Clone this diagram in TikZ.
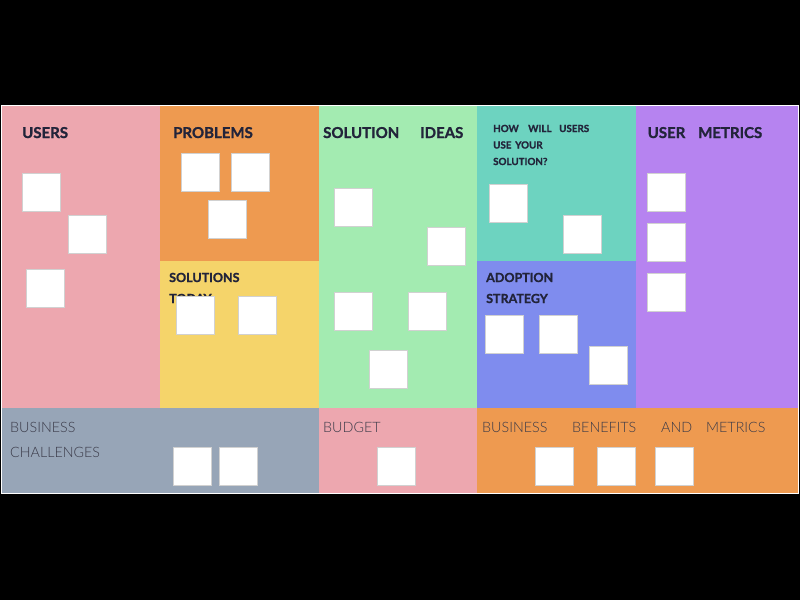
\documentclass[tikz,border=0pt]{standalone}
\usepackage{fontspec}
\setmainfont{Lato}
\newfontfamily\heavyf[BoldFeatures={FakeBold=1.2}]{Lato}
\newfontfamily\lightf{Lato Light}
\begin{document}
\begin{tikzpicture}[x=1pt,y=-1pt,
  sticky/.style={draw=black!18,line width=0.6pt,fill=white,minimum width=38pt,minimum height=38pt,inner sep=0pt,anchor=north west},
  head/.style={anchor=base west,inner sep=0pt,font=\heavyf\bfseries\fontsize{15}{18}\selectfont,text=headc},
  subhead/.style={anchor=base west,inner sep=0pt,font=\heavyf\bfseries\fontsize{12.5}{15}\selectfont,text=headc},
  smallhead/.style={anchor=base west,inner sep=0pt,font=\heavyf\bfseries\fontsize{9.8}{12}\selectfont,text=headc},
  low/.style={anchor=base west,inner sep=0pt,font=\lightf\fontsize{14.3}{17}\selectfont,text=lowc}]
\definecolor{headc}{HTML}{22243A}
\definecolor{lowc}{HTML}{3A3A48}
\definecolor{cpink}{HTML}{EDA7AF}
\definecolor{corange}{HTML}{EE9A50}
\definecolor{cyellow}{HTML}{F5D46A}
\definecolor{cgreen}{HTML}{A3EBB1}
\definecolor{cteal}{HTML}{6DD3C0}
\definecolor{cblue}{HTML}{7F8CEE}
\definecolor{cpurple}{HTML}{B683F0}
\definecolor{cgray}{HTML}{97A5B7}
\useasboundingbox (0,0) rectangle (800,600);
\fill[black] (0,0) rectangle (800,600);
\fill[white] (1,105) rectangle (799,494);
% panels
\fill[cpink] (2,106) rectangle (160,408);
\fill[corange] (160,106) rectangle (319,261);
\fill[cyellow] (160,261) rectangle (319,408);
\fill[cgreen] (319,106) rectangle (477,408);
\fill[cteal] (477,106) rectangle (636,261);
\fill[cblue] (477,261) rectangle (636,408);
\fill[cpurple] (636,106) rectangle (798,408);
\fill[cgray] (2,408) rectangle (319,493);
\fill[cpink] (319,408) rectangle (477,493);
\fill[corange] (477,408) rectangle (798,493);
% headings
\node[head] (tusers) at (22,138) {USERS};
\node[head] (tprob) at (173,138) {PROBLEMS};
\node[head] (tsol) at (323,138) {SOLUTION};
\node[head] (tideas) at (420,138) {IDEAS};
\node[head] (tuser) at (647.5,138) {USER};
\node[head] (tmetr) at (698,138) {METRICS};
\node[smallhead] (thow) at (493,132) {HOW};
\node[smallhead] (twill) at (528,132) {WILL};
\node[smallhead] (tusers2) at (559,132) {USERS};
\node[smallhead] (tuse) at (493,148.5) {USE};
\node[smallhead] (tyour) at (515,148.5) {YOUR};
\node[smallhead] (tsolq) at (493,165) {SOLUTION?};
\node[subhead] (tsolt) at (169,282) {SOLUTIONS};
\node[subhead] (ttoday) at (169,303) {TODAY};
\node[subhead] (tadopt) at (486,282) {ADOPTION};
\node[subhead] (tstrat) at (486,303) {STRATEGY};
\node[low] (tbus) at (10,432) {BUSINESS};
\node[low] (tchal) at (10,457) {CHALLENGES};
\node[low] (tbud) at (323,432) {BUDGET};
\node[low] (tbus2) at (482,432) {BUSINESS};
\node[low] (tben) at (572,432) {BENEFITS};
\node[low] (tand) at (661,432) {AND};
\node[low] (tmet2) at (706,432) {METRICS};
% stickies
\node[sticky] (u1) at (22,173) {};
\node[sticky] (u2) at (68,215) {};
\node[sticky] (u3) at (26,269) {};
\node[sticky] (p1) at (181,153) {};
\node[sticky] (p2) at (231,153) {};
\node[sticky] (p3) at (208,200) {};
\node[sticky] (st1) at (176,296) {};
\node[sticky] (st2) at (238,296) {};
\node[sticky] (si1) at (334,188) {};
\node[sticky] (si2) at (427,227) {};
\node[sticky] (si3) at (334,292) {};
\node[sticky] (si4) at (408,292) {};
\node[sticky] (si5) at (369,350) {};
\node[sticky] (h1) at (489,184) {};
\node[sticky] (h2) at (563,215) {};
\node[sticky] (m1) at (647,173) {};
\node[sticky] (m2) at (647,223) {};
\node[sticky] (m3) at (647,273) {};
\node[sticky] (a1) at (485,315) {};
\node[sticky] (a2) at (539,315) {};
\node[sticky] (a3) at (589,346) {};
\node[sticky] (b1) at (173,447) {};
\node[sticky] (b2) at (219,447) {};
\node[sticky] (bd1) at (377,447) {};
\node[sticky] (bb1) at (535,447) {};
\node[sticky] (bb2) at (597,447) {};
\node[sticky] (bb3) at (655,447) {};
\end{tikzpicture}
\end{document}
